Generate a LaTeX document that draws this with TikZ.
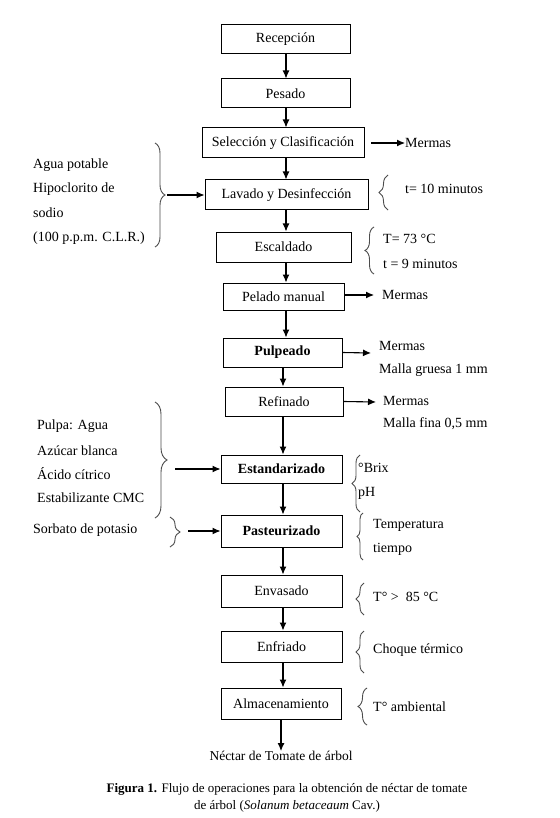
\documentclass[tikz,border=0pt]{standalone}
\usepackage{fontspec}
\setmainfont{Liberation Serif}
\usetikzlibrary{arrows.meta,decorations.pathreplacing}
\begin{document}
\begin{tikzpicture}[x=1pt,y=-1pt,
  mainfont/.style={font=\fontsize{14}{16}\selectfont},
  box/.style={draw, line width=1pt, inner sep=0pt, mainfont},
  txt/.style={inner sep=0pt, anchor=west, mainfont},
  arr/.style={line width=1.1pt, -{Latex[length=8pt,width=7pt]}},
  brc/.style={draw=black!70, line width=0.9pt, decorate, decoration={brace, amplitude=#1}},
  brc/.default=8pt]
\fill[white] (0,0) rectangle (559,818);
\useasboundingbox (0,0) rectangle (559,818);

% main boxes
\node[box, minimum width=129pt, minimum height=29pt] (rec) at (285.5,39.5) {Recepción};
\node[box, minimum width=129pt, minimum height=29pt] (pes) at (285.5,93.5) {Pesado};
\node[box, minimum width=162pt, minimum height=30pt] (sel) at (283,143) {Selección y Clasificación};
\node[box, minimum width=163pt, minimum height=30pt] (lav) at (286.5,195) {Lavado y Desinfección};
\node[box, minimum width=135pt, minimum height=30pt] (esc) at (283.5,247) {Escaldado};
\node[box, minimum width=121pt, minimum height=27pt] (pel) at (283.5,296.5) {Pelado manual};
\node[box, minimum width=119pt, minimum height=29pt] (pul) at (282.5,352.5) {\textbf{Pulpeado}};
\node[box, minimum width=118pt, minimum height=29pt] (ref) at (284,401.5) {Refinado};
\node[box, minimum width=121pt, minimum height=28pt] (est) at (281.5,469) {\textbf{Estandarizado}};
\node[box, minimum width=121pt, minimum height=32pt] (pas) at (281.5,531) {\textbf{Pasteurizado}};
\node[box, minimum width=121pt, minimum height=32pt] (env) at (281.5,591) {Envasado};
\node[box, minimum width=121pt, minimum height=31pt] (enf) at (281.5,646.5) {Enfriado};
\node[box, minimum width=120pt, minimum height=31pt] (alm) at (281,703.5) {Almacenamiento};
\node[inner sep=0pt, font=\fontsize{13.5}{16}\selectfont] (nec) at (281,756) {Néctar de Tomate de árbol};

% vertical arrows
\coordinate (xa) at (286,0);
\coordinate (xb) at (283,0);
\draw[arr] (rec.south -| xa) -- (pes.north -| xa);
\draw[arr] (pes.south -| xa) -- (sel.north -| xa);
\draw[arr] (sel.south -| xa) -- (lav.north -| xa);
\draw[arr] (lav.south -| xa) -- (esc.north -| xa);
\draw[arr] (esc.south -| xa) -- (pel.north -| xa);
\draw[arr] (pel.south -| xa) -- (pul.north -| xa);
\draw[arr] (pul.south -| xb) -- (ref.north -| xb);
\draw[arr] (ref.south -| xb) -- (est.north -| xb);
\draw[arr] (est.south -| xb) -- (pas.north -| xb);
\draw[arr] (pas.south -| xb) -- (env.north -| xb);
\draw[arr] (env.south -| xb) -- (enf.north -| xb);
\draw[arr] (enf.south -| xb) -- (alm.north -| xb);
\draw[arr] (alm.south -| nec.north) -- (nec.north);

% Seleccion -> Mermas
\node[txt] (m1) at (405,143) {Mermas};
\coordinate (s1) at (371,143);
\draw[arr] (s1) -- (m1.west);

% Lavado left inputs
\node[txt] (l1) at (33,165) {Agua potable};
\node[txt] (l2) at (33,189) {Hipoclorito de};
\node[txt] (l3) at (33,213) {sodio};
\node[txt] (l4) at (33,238) {(100 p.p.m. C.L.R.)};
\draw[brc=10pt] (155,143) -- (155,247);
\coordinate (lb) at (167,195);
\draw[arr] (lb) -- (lav.west);
% Lavado right
\draw[brc=9pt] (388,210) -- (388,175);
\node[txt] (lr) at (405,189) {t= 10 minutos};

% Escaldado right
\draw[brc=9pt] (374,274) -- (374,227);
\node[txt] (e1) at (383,239) {T= 73 °C};
\node[txt] (e2) at (383,264) {t = 9 minutos};

% Pelado -> Mermas
\node[txt] (m2) at (382,295) {Mermas};
\coordinate (s2) at (374,295);
\draw[arr] (pel.east |- s2) -- (s2);

% Pulpeado
\node[txt] (m3) at (379,346) {Mermas};
\node[txt] (m3b) at (379,370) {Malla gruesa 1 mm};
\coordinate (s3) at (371,353);
\draw[arr] (pul.east) -- (s3);

% Refinado
\node[txt] (m4) at (383,401) {Mermas};
\node[txt] (m4b) at (383,424) {Malla fina 0,5 mm};
\coordinate (s4) at (376,402);
\draw[arr] (ref.east) -- (s4);

% Estandarizado inputs
\node[txt] (i1) at (37,426) {Pulpa: Agua};
\node[txt] (i2) at (37,451) {Azúcar blanca};
\node[txt] (i3) at (37,474) {Ácido cítrico};
\node[txt] (i4) at (37,498) {Estabilizante CMC};
\draw[brc=12pt] (155,402) -- (155,518);
\coordinate (eb) at (175,469);
\draw[arr] (eb) -- (est.west);
% Estandarizado right
\draw[brc=8pt] (360,512) -- (360,455);
\node[txt] (b1) at (358,468) {°Brix};
\node[txt] (b2) at (358,493) {pH};

% Pasteurizado inputs
\node[txt] (so) at (33,530) {Sorbato de potasio};
\draw[brc=10pt] (170,517) -- (170,547);
\coordinate (pb) at (188,531);
\draw[arr] (pb) -- (pas.west);
% Pasteurizado right
\draw[brc=6pt] (363,560) -- (363,513);
\node[txt] (t1) at (373,525) {Temperatura};
\node[txt] (t2) at (373,549) {tiempo};

% Envasado right
\draw[brc=8pt] (364,615) -- (364,583);
\node[txt] (v1) at (373,597) {T° >\ \ 85 °C};
% Enfriado right
\draw[brc=8pt] (364,673) -- (364,631);
\node[txt] (f1) at (373,650) {Choque térmico};
% Almacenamiento right
\draw[brc=9pt] (367,725) -- (367,688);
\node[txt] (a1) at (373,707) {T° ambiental};

% caption
\node[inner sep=0pt, align=center, font=\fontsize{13}{17}\selectfont] (cap) at (287,798)
  {\textbf{Figura 1.} Flujo de operaciones para la obtención de néctar de tomate\\ de árbol (\textit{Solanum betaceaum} Cav.)};
\end{tikzpicture}
\end{document}
